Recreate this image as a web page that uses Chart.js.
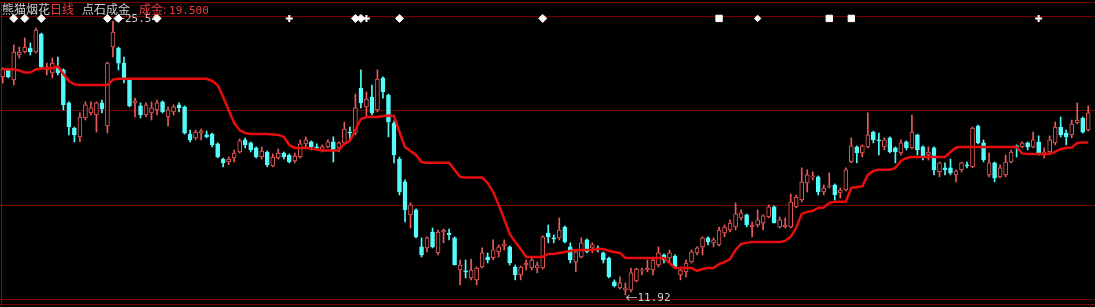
<!DOCTYPE html>
<html><head><meta charset="utf-8">
<script src="https://cdn.jsdelivr.net/npm/chart.js@4.4.1/dist/chart.umd.min.js"></script>
<style>
html,body{margin:0;padding:0;background:#000;overflow:hidden;}
#wrap{position:relative;width:1095px;height:307px;background:#000;}
canvas{display:block;}
#title{position:absolute;left:2px;top:2px;font:12px/13px "Noto Sans CJK SC",sans-serif;color:#cfcfcf;white-space:nowrap;}
.r{color:#f03c3c;}
.num{font-family:"DejaVu Sans Mono",monospace;font-size:11px;}
</style></head><body>
<div id="wrap"><canvas id="c" width="1095" height="307"></canvas>
<div id="title">熊猫烟花<span class="r">日线</span><span style="margin-left:8px">点石成金</span><span class="r" style="margin-left:9px">成金: <span class="num" id="val"></span></span></div></div>
<script>
const open = [22.76,23.11,22.61,23.85,24.00,24.20,24.00,24.89,23.11,22.96,
23.26,23.11,21.47,20.22,19.78,20.72,20.97,20.87,21.47,20.32,
24.25,24.20,23.45,22.61,21.47,21.32,20.87,20.97,21.12,21.52,
20.77,21.02,21.37,21.27,19.92,19.73,19.97,19.88,19.92,19.43,
18.68,18.53,18.73,19.03,19.63,19.48,19.23,18.78,19.03,18.34,
18.73,18.98,18.88,18.58,18.78,19.43,19.53,19.28,19.13,19.28,
19.53,19.23,19.48,20.02,19.97,22.21,21.27,21.76,21.12,22.71,
21.86,20.47,18.68,17.54,15.90,16.15,14.31,14.26,15.05,14.01,
15.05,15.00,14.76,13.16,13.12,12.77,12.67,13.31,13.81,13.76,
14.06,14.36,14.31,13.31,12.92,13.41,13.26,13.26,13.26,15.00,
14.76,14.76,15.30,14.31,13.56,13.81,14.66,14.26,14.26,14.01,
13.76,12.57,12.27,12.17,12.17,12.62,13.12,13.16,13.16,13.41,
13.91,13.76,13.86,12.92,13.07,13.56,14.01,14.31,14.76,14.51,
14.41,15.00,15.15,15.30,15.75,15.90,15.30,15.40,15.50,15.80,
16.30,15.30,15.30,15.30,16.30,16.64,17.49,17.79,17.79,17.04,
17.29,17.39,16.99,17.14,18.53,19.28,18.98,19.28,20.02,19.63,
19.28,19.73,19.23,18.98,19.53,19.23,19.88,19.28,18.88,19.23,
18.04,18.24,18.24,17.89,18.14,18.39,18.29,20.32,19.48,17.89,
18.49,17.79,17.89,18.53,19.33,19.28,19.48,19.28,19.53,18.98,
19.03,19.48,20.27,19.97,19.88,20.47,20.72,20.12];
const high = [23.21,23.11,24.35,24.25,24.70,24.45,25.19,24.94,23.45,23.70,
23.75,23.16,21.52,20.27,20.97,21.52,21.52,21.52,21.61,23.50,
25.54,24.25,23.75,22.66,21.71,21.47,21.47,21.52,21.61,21.57,
21.27,21.37,21.47,21.32,20.12,20.12,20.17,20.07,19.97,19.48,
18.73,18.78,19.13,19.68,19.73,19.53,19.28,19.28,19.08,18.93,
19.18,19.03,18.93,18.98,19.63,19.78,19.58,19.43,19.38,19.63,
19.78,19.53,20.52,20.27,21.91,23.11,22.01,22.36,23.11,22.76,
21.91,20.57,18.78,17.64,16.50,16.20,14.76,14.81,15.25,15.15,
15.20,15.20,14.81,13.66,13.66,13.71,13.31,14.26,14.01,14.66,
14.41,14.66,14.36,13.41,13.36,13.66,13.76,13.56,14.86,15.40,
14.91,15.75,15.35,14.51,14.11,14.76,14.71,14.51,14.36,14.06,
13.81,12.67,12.82,12.52,13.26,13.26,13.26,13.66,13.76,14.31,
13.96,14.16,13.91,13.31,13.66,14.16,14.31,14.81,14.81,14.76,
15.30,15.40,15.65,16.50,16.15,15.95,15.55,16.15,15.90,16.40,
16.35,15.80,15.75,16.94,16.89,18.24,18.14,18.04,17.84,17.39,
17.99,17.44,17.24,18.24,19.73,19.33,19.38,20.97,20.07,19.97,
19.73,19.78,19.28,19.63,19.58,20.87,19.92,19.33,19.28,19.28,
18.53,18.49,18.68,18.14,18.53,18.53,20.27,20.37,19.63,18.98,
18.53,18.39,18.88,19.13,19.38,19.53,19.53,20.02,19.83,19.23,
19.83,20.52,20.77,20.12,20.62,21.47,20.77,21.32];
const low = [22.46,22.71,22.36,23.70,23.95,23.85,23.95,23.21,22.86,22.71,
22.86,21.12,19.88,19.53,19.53,20.62,20.87,20.02,20.97,19.97,
23.75,23.11,22.46,21.27,20.77,20.72,20.77,20.62,20.87,20.97,
20.32,20.87,21.02,19.92,19.53,19.63,19.63,19.73,19.28,18.73,
18.29,18.39,18.53,18.98,19.23,19.03,18.73,18.68,18.29,18.29,
18.68,18.68,18.49,18.49,18.73,19.28,19.13,19.13,19.03,19.23,
18.53,19.03,19.38,19.63,19.88,21.22,20.77,20.87,21.02,21.71,
19.78,18.49,16.89,15.55,15.25,14.76,13.81,14.06,14.26,13.91,
14.51,14.66,13.41,12.42,12.77,12.67,12.42,13.26,13.51,13.66,
13.81,14.16,13.41,12.67,12.67,13.16,13.16,13.02,13.21,14.51,
14.51,14.66,14.51,13.51,13.07,13.76,14.01,14.01,14.06,13.51,
12.77,12.32,12.22,11.92,12.07,12.57,12.92,13.07,12.92,13.31,
13.51,13.56,13.26,12.67,12.82,13.51,13.91,13.91,14.41,14.31,
14.36,14.81,15.05,15.15,15.65,15.30,14.81,15.30,15.15,15.75,
15.50,15.25,15.25,15.25,16.25,16.55,17.04,17.64,16.89,16.89,
17.24,16.64,16.74,17.09,18.49,18.49,18.78,19.23,19.48,18.88,
19.13,18.98,18.49,18.88,19.13,19.18,18.88,18.63,18.63,17.89,
17.79,17.89,17.89,17.54,18.04,18.24,18.24,19.43,18.53,17.79,
17.54,17.74,17.79,18.49,18.78,19.23,19.13,19.23,18.88,18.73,
18.98,19.38,19.78,19.38,19.73,20.42,19.97,20.07];
const close = [23.16,22.76,24.00,24.00,24.25,24.00,25.09,23.26,23.26,23.45,
22.96,21.37,20.27,19.88,20.77,21.37,21.22,21.47,21.17,23.45,
24.99,23.45,22.61,21.32,21.57,20.87,21.37,21.22,21.47,21.02,
21.12,21.27,21.22,19.97,19.63,20.02,20.07,19.78,19.38,18.78,
18.49,18.68,18.98,19.58,19.38,19.13,18.78,19.08,18.39,18.78,
18.98,18.78,18.53,18.83,19.43,19.63,19.28,19.23,19.28,19.53,
19.13,19.48,20.17,19.97,21.22,21.47,21.66,20.97,22.66,22.01,
20.52,18.88,17.04,16.15,16.40,14.81,13.91,14.76,14.31,15.05,
15.15,14.91,13.41,13.41,13.07,13.16,13.26,14.01,13.66,14.16,
14.31,14.46,13.51,12.92,13.31,13.51,13.66,13.41,14.81,14.81,
14.71,15.15,14.56,13.66,14.06,14.51,14.06,14.41,14.16,13.66,
12.82,12.37,12.52,12.27,13.02,13.21,13.16,13.26,13.66,14.01,
13.66,14.01,13.26,13.16,13.51,14.06,14.26,14.76,14.56,14.66,
15.15,15.30,15.50,15.95,16.00,15.40,15.40,15.65,15.85,16.30,
15.50,15.65,15.40,16.55,16.79,17.54,17.89,17.84,17.04,17.24,
17.34,16.89,17.14,18.14,19.33,18.98,19.33,19.88,19.63,19.58,
19.63,19.03,19.03,19.48,19.23,20.02,19.13,18.78,19.03,18.14,
18.49,18.14,17.99,18.09,18.49,18.34,20.22,19.48,18.63,18.49,
17.74,18.24,18.53,19.03,19.28,19.48,19.28,19.63,18.98,19.03,
19.63,20.27,19.88,19.78,20.42,20.62,20.02,20.97];
// 成金 line
const chengjin = [23.13,23.14,23.14,23.08,22.98,22.98,23.13,23.18,23.19,23.21,
23.28,22.91,22.56,22.39,22.36,22.36,22.36,22.36,22.36,22.36,
22.63,22.67,22.67,22.67,22.67,22.67,22.67,22.67,22.67,22.67,
22.67,22.67,22.67,22.67,22.67,22.67,22.67,22.67,22.56,22.36,
21.76,21.12,20.47,20.12,19.97,19.92,19.92,19.92,19.92,19.90,
19.88,19.78,19.38,19.23,19.23,19.23,19.20,19.15,19.10,19.10,
19.10,19.13,19.43,19.58,20.12,20.67,20.77,20.77,20.77,20.82,
20.84,20.82,20.02,19.28,19.08,18.88,18.53,18.49,18.49,18.49,
18.49,18.49,18.14,17.79,17.76,17.76,17.76,17.76,17.49,17.04,
16.40,15.70,14.95,14.56,14.21,13.81,13.81,13.81,13.81,13.96,
13.96,14.01,14.06,14.11,14.16,14.16,14.16,14.16,14.21,14.21,
14.11,14.06,14.01,13.76,13.76,13.76,13.76,13.76,13.76,13.76,
13.76,13.51,13.26,13.26,13.26,13.26,13.12,13.21,13.26,13.26,
13.46,13.56,13.71,14.16,14.46,14.51,14.56,14.56,14.56,14.56,
14.56,14.56,14.61,14.81,15.25,15.95,16.05,16.10,16.25,16.27,
16.50,16.55,16.55,16.57,17.24,17.29,17.32,17.89,18.09,18.14,
18.14,18.14,18.24,18.58,18.73,18.78,18.78,18.78,18.78,18.78,
18.78,18.78,19.03,19.25,19.28,19.28,19.28,19.28,19.28,19.28,
19.28,19.28,19.28,19.28,19.28,18.96,18.93,18.93,18.93,18.93,
18.93,19.03,19.18,19.23,19.25,19.48,19.50,19.50];
// signal markers (bar index, shape)
const markerIdx   = [2,4,7,19,21,28,52,64,65,66,72,98,130,137,150,154,188];
const markerShape = ['d','d','d','d','d','d','c','d','d','c','d','d','s','v','s','s','c'];
const markerLevel = [25.67];
// y range of the panel and its grid levels
const yRange = [11.72, 25.79];
const gridVals = [25.79, 21.10, 16.41, 11.72];

const UP = '#ec5a5a', DOWN = '#54fcfc', LINE = '#e80e0e', GRID = '#7a0000';
const N = open.length;
const days = open.map((_, i) => String(i + 1));
const isUp = open.map((o, i) => close[i] >= o);
const wickData = low.map((l, i) => [l, high[i]]);
const bodyData = open.map((o, i) => [Math.min(o, close[i]), Math.max(o, close[i])]);
const mData = new Array(N).fill(null), mStyle = new Array(N).fill('rectRot'),
      mRad = new Array(N).fill(0), mBW = new Array(N).fill(1);
markerIdx.forEach((k, j) => {
  mData[k] = markerLevel[0];
  const s = markerShape[j];
  if (s === 'd') { mStyle[k] = 'rectRot'; mRad[k] = 4; mBW[k] = 1; }
  else if (s === 'c') { mStyle[k] = 'cross'; mRad[k] = 3.5; mBW[k] = 2; }
  else if (s === 's') { mStyle[k] = 'rect'; mRad[k] = 4.5; mBW[k] = 1; }
  else { mStyle[k] = 'rectRot'; mRad[k] = 3.2; mBW[k] = 1; }
});
document.getElementById('val').textContent = chengjin[N - 1].toFixed(3);

const deco = {
  id: 'deco',
  beforeDraw(chart) {
    const { ctx, width, height, chartArea: ca } = chart;
    const y = chart.scales.y;
    ctx.save();
    ctx.fillStyle = '#000'; ctx.fillRect(0, 0, width, height);
    ctx.strokeStyle = GRID; ctx.lineWidth = 1;
    const hl = py => { ctx.beginPath(); ctx.moveTo(0, py); ctx.lineTo(width, py); ctx.stroke(); };
    gridVals.forEach(v => hl(Math.round(y.getPixelForValue(v)) + 0.5));
    hl(2.5);
    hl(Math.round(ca.bottom) + 5.5);
    ctx.strokeStyle = '#a00000';
    ctx.beginPath(); ctx.moveTo(1.5, 2); ctx.lineTo(1.5, height); ctx.stroke();
    ctx.restore();
  },
  beforeDatasetsDraw(chart) {
    const { ctx } = chart; const x = chart.scales.x, y = chart.scales.y;
    const hi = Math.max(...high), lo = Math.min(...low);
    const hiI = high.indexOf(hi), loI = low.indexOf(lo);
    ctx.save();
    ctx.fillStyle = '#cfcfcf'; ctx.textBaseline = 'middle'; ctx.textAlign = 'left';
    const lab = (i, v, dy) => {
      const px = x.getPixelForValue(i), py = y.getPixelForValue(v) + dy;
      ctx.font = '12px "Noto Sans CJK SC"';
      ctx.fillText('←', px, py);
      const w = ctx.measureText('←').width;
      ctx.font = '11px "DejaVu Sans Mono"';
      ctx.fillText(v.toFixed(2), px + w, py);
    };
    lab(hiI, hi, -1.5);
    lab(loI, lo, 3.5);
    ctx.restore();
  }
};

new Chart(document.getElementById('c'), {
  type: 'bar',
  data: {
    labels: days,
    datasets: [
      { type: 'bar', data: wickData, grouped: false, barThickness: 1, backgroundColor: isUp.map(u => u ? UP : DOWN), borderWidth: 0, order: 3 },
      { type: 'bar', data: bodyData, grouped: false, barThickness: 4, minBarLength: 1,
        backgroundColor: isUp.map(u => u ? '#000' : DOWN), borderColor: isUp.map(u => u ? UP : DOWN),
        borderWidth: 1, borderSkipped: false, order: 2 },
      { type: 'line', data: chengjin, borderColor: LINE, borderWidth: 2.5, pointRadius: 0, tension: 0, order: 1 },
      { type: 'line', data: mData, showLine: false, pointStyle: mStyle, pointRadius: mRad, pointBorderWidth: mBW,
        pointBackgroundColor: '#fff', pointBorderColor: '#fff', clip: false, order: 0 }
    ]
  },
  options: {
    responsive: false, animation: false,
    layout: { padding: { left: 0, right: 4, top: 16, bottom: 8 } },
    plugins: { legend: { display: false }, tooltip: { enabled: false } },
    scales: {
      x: { type: 'category', display: false, offset: true },
      y: { type: 'linear', display: false, min: yRange[0], max: yRange[1] }
    }
  },
  plugins: [deco]
});
</script>
</body></html>
